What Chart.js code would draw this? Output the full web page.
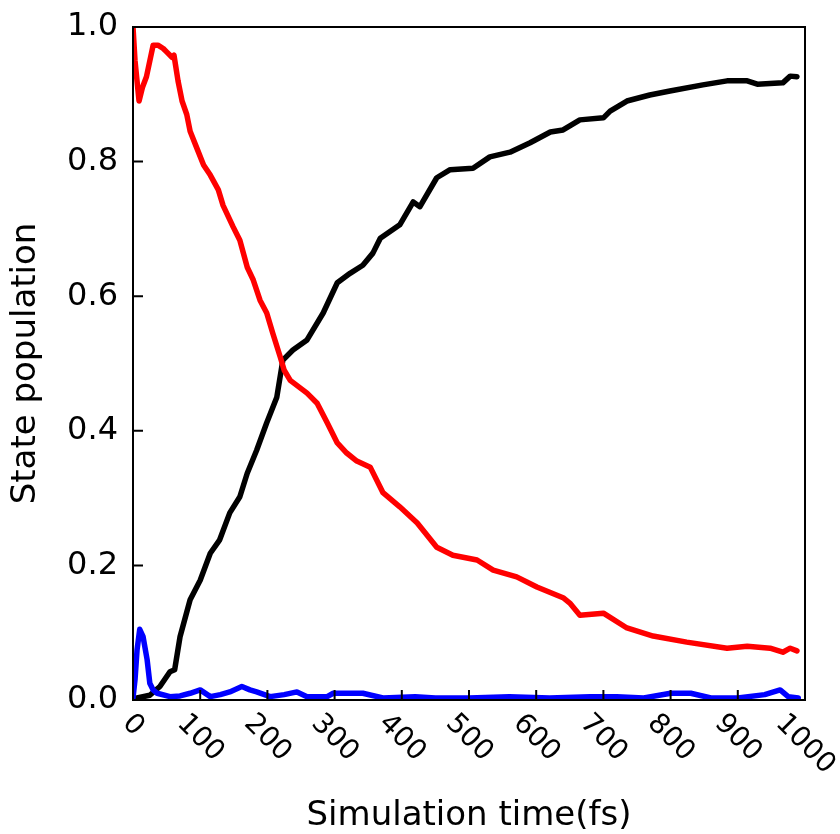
<!DOCTYPE html>
<html>
<head>
<meta charset="utf-8">
<script src="https://cdn.jsdelivr.net/npm/chart.js@4/dist/chart.umd.min.js"></script>
<style>
  html, body { margin: 0; padding: 0; background: #fff; }
  #wrap { width: 840px; height: 834px; position: relative; }
</style>
</head>
<body>
<div id="wrap"><canvas id="chart"></canvas></div>
<script>
// state populations (time in fs)
const s1Time = [0, 3, 9, 14, 20, 30, 37, 45, 50, 58, 61, 67, 73, 80, 85, 95, 105, 115, 127, 134, 149, 159, 170, 179, 189, 199, 208, 219, 225, 234, 259, 274, 289, 304, 318, 333, 353, 372, 397, 423, 452, 476, 512, 536, 571, 601, 640, 650, 665, 700, 735, 774, 824, 884, 914, 948, 967, 978, 988];
const s1Pop = [1.0, 0.95, 0.89, 0.91, 0.926, 0.973, 0.973, 0.968, 0.963, 0.955, 0.958, 0.92, 0.89, 0.87, 0.845, 0.82, 0.795, 0.78, 0.758, 0.735, 0.703, 0.683, 0.643, 0.624, 0.594, 0.575, 0.545, 0.51, 0.49, 0.475, 0.456, 0.441, 0.412, 0.382, 0.367, 0.355, 0.346, 0.308, 0.287, 0.263, 0.227, 0.215, 0.208, 0.193, 0.183, 0.168, 0.152, 0.144, 0.126, 0.129, 0.107, 0.095, 0.086, 0.077, 0.080, 0.077, 0.071, 0.077, 0.073];

const s0Time = [0, 6, 25, 40, 55, 62, 70, 85, 100, 115, 129, 144, 159, 170, 184, 199, 214, 223, 238, 259, 283, 304, 323, 342, 357, 368, 397, 417, 427, 452, 472, 506, 531, 561, 591, 621, 640, 650, 665, 700, 710, 735, 769, 799, 848, 884, 914, 929, 967, 978, 988];
const s0Pop = [0.0, 0.003, 0.007, 0.02, 0.042, 0.045, 0.094, 0.149, 0.178, 0.218, 0.238, 0.278, 0.302, 0.337, 0.371, 0.412, 0.45, 0.505, 0.52, 0.535, 0.575, 0.62, 0.634, 0.646, 0.664, 0.686, 0.706, 0.74, 0.733, 0.776, 0.788, 0.79, 0.807, 0.814, 0.828, 0.844, 0.847, 0.853, 0.862, 0.865, 0.875, 0.89, 0.899, 0.905, 0.914, 0.92, 0.92, 0.915, 0.917, 0.927, 0.926];

const s2Time = [0, 3, 6, 10, 15, 21, 25, 30, 36, 55, 70, 85, 100, 115, 130, 144, 162, 174, 184, 204, 225, 244, 259, 289, 298, 342, 372, 420, 450, 500, 560, 620, 680, 720, 760, 800, 830, 860, 900, 940, 963, 975, 990];
const s2Pop = [0.003, 0.03, 0.074, 0.105, 0.094, 0.06, 0.025, 0.015, 0.01, 0.005, 0.006, 0.01, 0.015, 0.005, 0.008, 0.012, 0.02, 0.015, 0.012, 0.005, 0.008, 0.012, 0.005, 0.005, 0.01, 0.01, 0.003, 0.005, 0.003, 0.003, 0.005, 0.003, 0.005, 0.005, 0.003, 0.01, 0.01, 0.003, 0.003, 0.008, 0.015, 0.005, 0.003];

const xTicks = [0, 100, 200, 300, 400, 500, 600, 700, 800, 900, 1000];
const yTicks = [0, 0.2, 0.4, 0.6, 0.8, 1.0];

const FONT = "'DejaVu Sans', sans-serif";
const X_TICK_SIZE = 28;

function pts(xs, ys) {
  return xs.map((x, i) => ({ x: x, y: ys[i] }));
}

function line(data, color) {
  return {
    data: data,
    borderColor: color,
    borderWidth: 5.5,
    pointRadius: 0,
    tension: 0,
    fill: false,
    borderJoinStyle: "round",
    borderCapStyle: "round",
  };
}

// frame, inward ticks, rotated x labels and axis titles, matplotlib style
const framePlugin = {
  id: "frame",
  afterDraw(chart) {
    const { ctx, chartArea: a, scales } = chart;
    ctx.save();
    ctx.strokeStyle = "#000";
    ctx.lineWidth = 2;
    ctx.strokeRect(a.left, a.top, a.right - a.left, a.bottom - a.top);

    ctx.beginPath();
    yTicks.forEach((v) => {
      const y = scales.y.getPixelForValue(v);
      ctx.moveTo(a.left, y);
      ctx.lineTo(a.left + 10, y);
    });
    xTicks.forEach((v) => {
      const x = scales.x.getPixelForValue(v);
      ctx.moveTo(x, a.bottom);
      ctx.lineTo(x, a.bottom - 10);
    });
    ctx.stroke();

    ctx.fillStyle = "#000";
    ctx.font = X_TICK_SIZE + "px " + FONT;
    ctx.textAlign = "center";
    ctx.textBaseline = "middle";
    const s = Math.SQRT1_2;
    const h = X_TICK_SIZE * 0.729;
    xTicks.forEach((v) => {
      const label = String(v);
      const w = ctx.measureText(label).width;
      const x = scales.x.getPixelForValue(v);
      const y = a.bottom + 12 + (w + h) * s / 2;
      ctx.save();
      ctx.translate(x, y);
      ctx.rotate(Math.PI / 4);
      ctx.fillText(label, 0, 0);
      ctx.restore();
    });

    ctx.font = "34px " + FONT;
    ctx.fillText("Simulation time(fs)", (a.left + a.right) / 2, 816);

    ctx.save();
    ctx.translate(26, (a.top + a.bottom) / 2);
    ctx.rotate(-Math.PI / 2);
    ctx.fillText("State population", 0, 0);
    ctx.restore();
    ctx.restore();
  },
};

new Chart(document.getElementById("chart"), {
  type: "line",
  data: {
    datasets: [
      line(pts(s2Time, s2Pop), "#0000ff"),
      line(pts(s1Time, s1Pop), "#ff0000"),
      line(pts(s0Time, s0Pop), "#000000"),
    ],
  },
  options: {
    responsive: true,
    maintainAspectRatio: false,
    animation: false,
    layout: { padding: { top: 27, right: 35, bottom: 0, left: 0 } },
    plugins: {
      legend: { display: false },
      tooltip: { enabled: false },
    },
    scales: {
      x: {
        type: "linear",
        min: 0,
        max: 1000,
        grid: { display: false, drawTicks: false },
        border: { display: false },
        ticks: { display: false },
        afterFit(scale) { scale.height = 134; },
      },
      y: {
        min: 0,
        max: 1,
        grid: { display: false, drawTicks: false },
        border: { display: false },
        ticks: {
          stepSize: 0.2,
          padding: 15,
          color: "#000",
          font: { family: FONT, size: 32 },
          callback: (v) => v.toFixed(1),
        },
        afterFit(scale) {
          scale.width = 133;
          scale.paddingTop = 0;
          scale.paddingBottom = 0;
        },
      },
    },
  },
  plugins: [framePlugin],
});
</script>
</body>
</html>
